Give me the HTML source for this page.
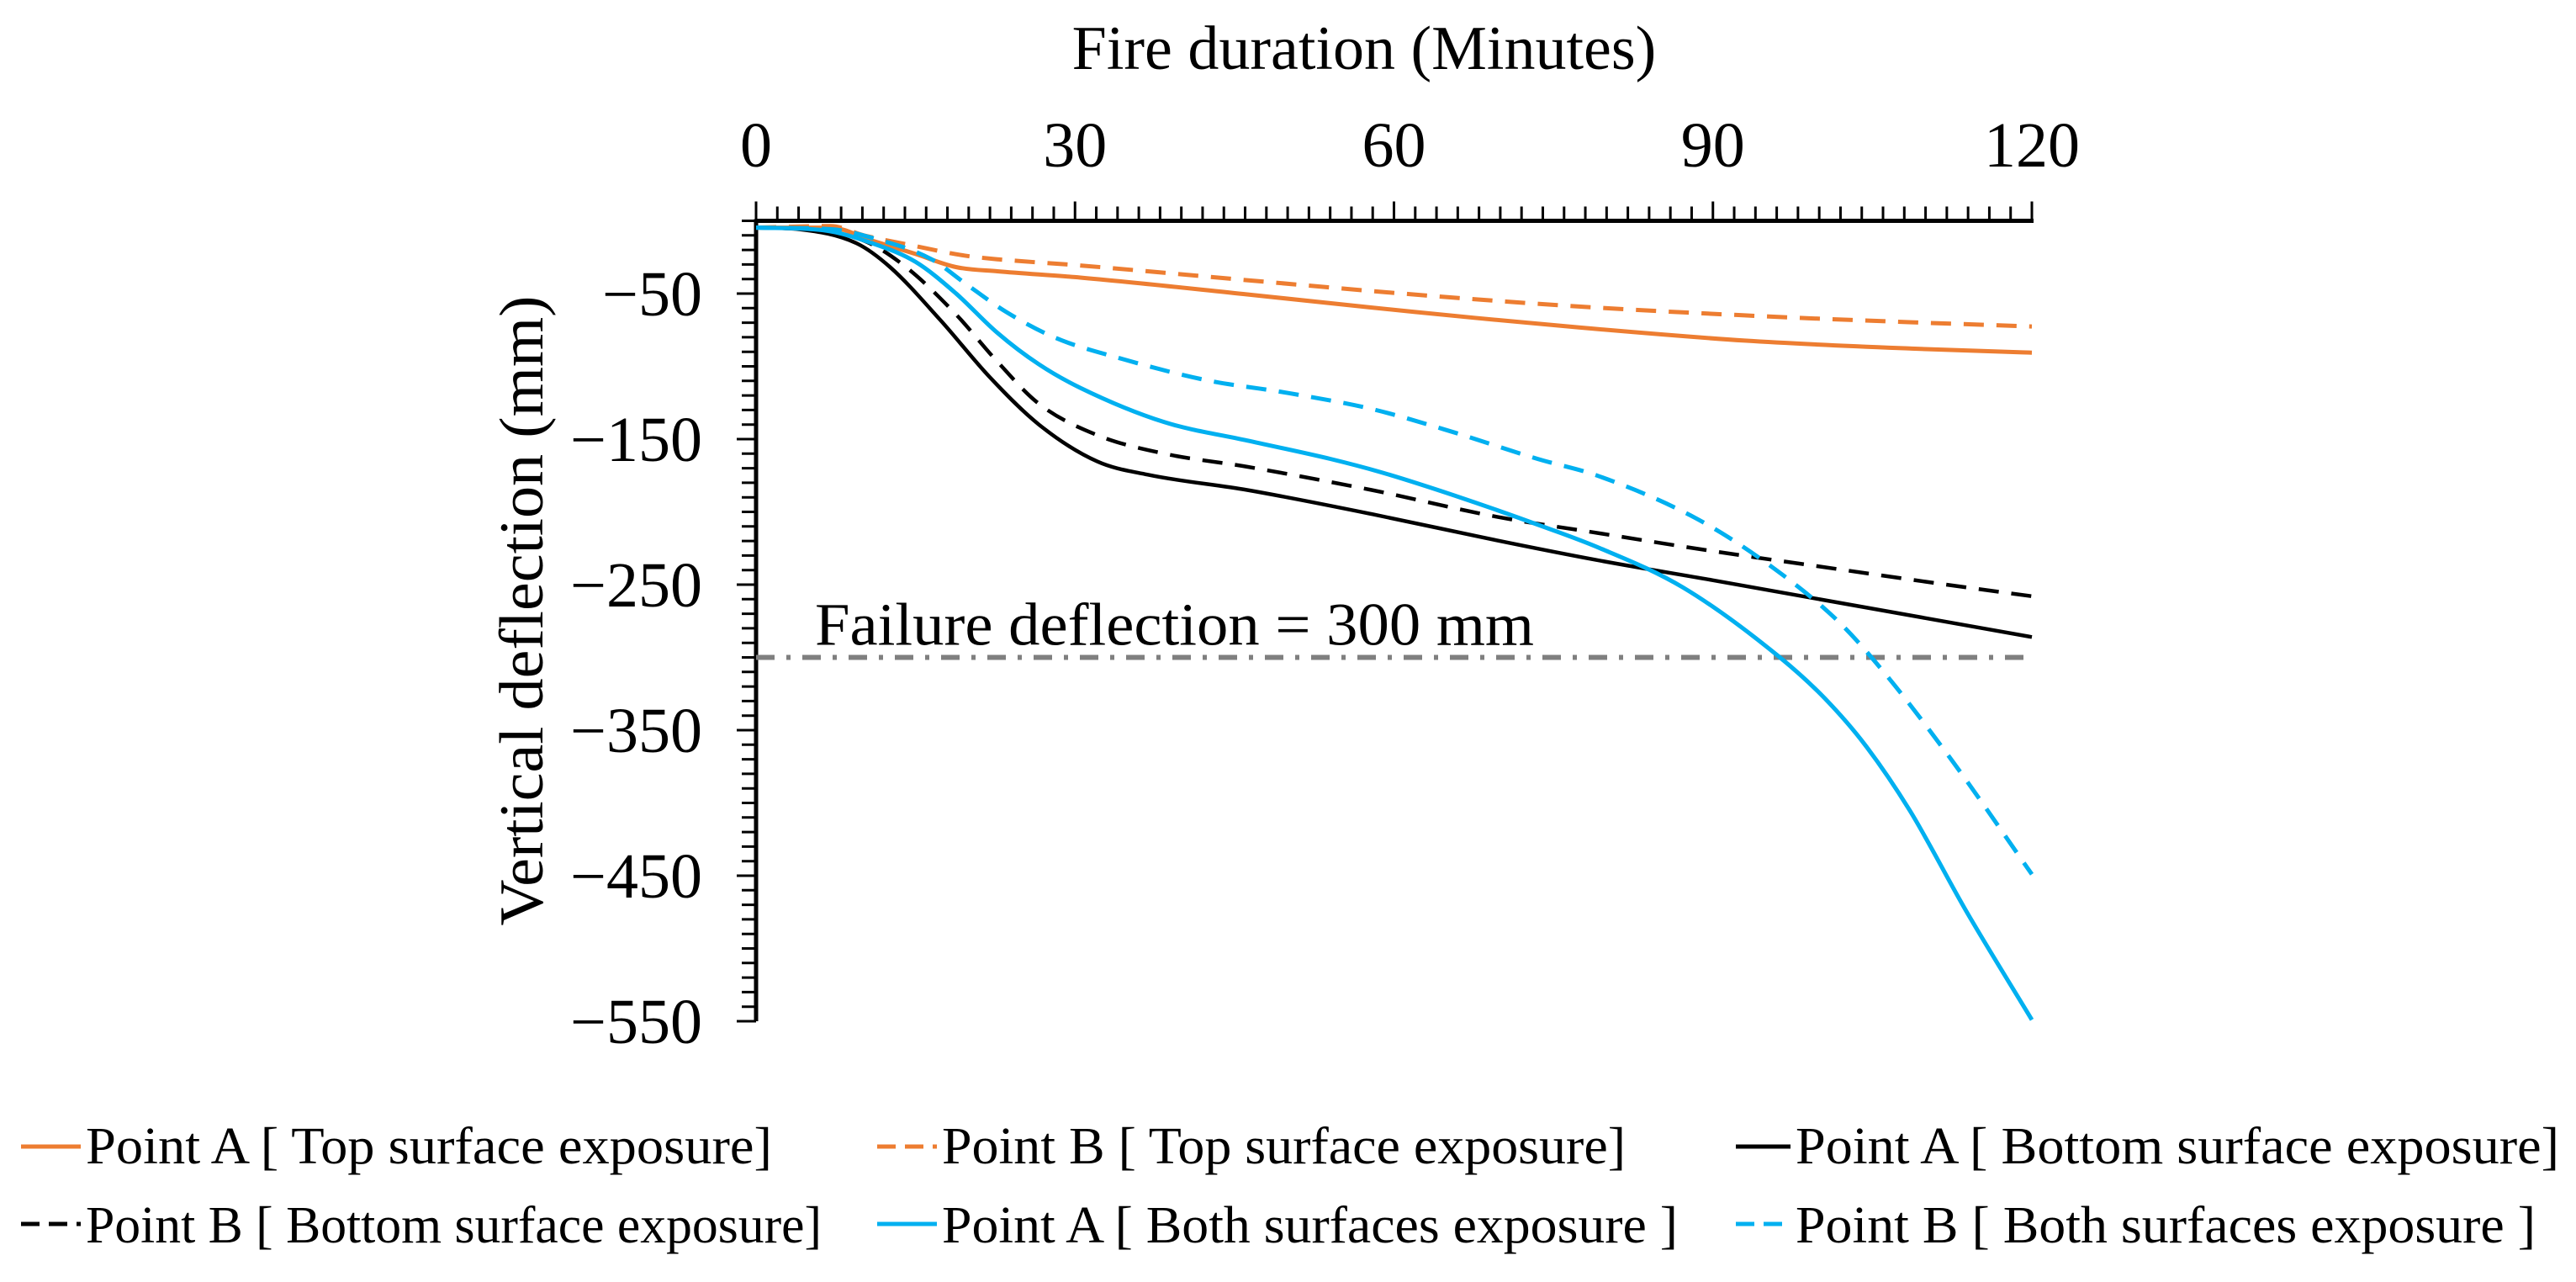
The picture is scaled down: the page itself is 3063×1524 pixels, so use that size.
<!DOCTYPE html>
<html><head><meta charset="utf-8"><style>
html,body{margin:0;padding:0;background:#fff;}
svg{display:block;font-family:"Liberation Serif",serif;}
</style></head><body>
<svg id="chart" width="3063" height="1524" viewBox="0 0 3063 1524" xmlns="http://www.w3.org/2000/svg">
<text x="1622" y="82" font-size="74" text-anchor="middle">Fire duration (Minutes)</text>
<text transform="translate(645,726) rotate(-90)" font-size="74" text-anchor="middle" textLength="749" lengthAdjust="spacingAndGlyphs">Vertical deflection (mm)</text>
<g id="axes"></g>
<g id="series"></g>
<g id="legend"></g>
</svg>
<script>
const xTicks = [0, 30, 60, 90, 120];
const yTicks = [-50, -150, -250, -350, -450, -550];
const failureValue = -300;
const failureLabel = "Failure deflection = 300 mm";

const tA_top = [0, 7, 11, 15, 18.8, 22.7, 30.5, 46.2, 61.8, 77.4, 93, 108.7, 120];
const vA_top = [-4.7, -4.7, -13.8, -22.8, -31.8, -34.7, -39, -50.6, -62.5, -73.3, -82.3, -87.8, -90.6];
const tB_top = [0, 7, 10.2, 15, 19.6, 22.7, 30.5, 46.2, 61.8, 77.4, 93, 108.7, 120];
const vB_top = [-4.7, -3.6, -10.1, -17.4, -23.9, -26.4, -30.7, -40.8, -50.6, -58.9, -65, -69.7, -72.6];
const tA_bot = [0, 4, 9.5, 12.6, 17.3, 22, 26.6, 32.1, 36.8, 46.2, 57.9, 69.6, 79, 90, 100, 110, 120];
const vA_bot = [-4.7, -5.8, -15.6, -31.8, -67.9, -107.6, -140, -165.4, -174.4, -185, -201.5, -219.5, -233, -247, -260, -273, -286];
const tB_bot = [0, 4.8, 10.2, 14.1, 18.8, 22.7, 26.6, 32.1, 38.4, 46.2, 57.9, 69.6, 79.6, 90, 100, 110, 120];
const vB_bot = [-4.7, -5.8, -13.8, -31.8, -64.3, -96.8, -125.7, -147.3, -160, -169, -185, -203.3, -215, -227, -237.5, -248, -258];
const tA_both = [0, 6.3, 11, 15, 18.8, 22.7, 26.6, 30.5, 38.4, 46.2, 54, 58.7, 65.7, 73.5, 79.4, 87.2, 96.3, 100.5, 104.3, 108.5, 113.8, 120];
const vA_both = [-4.7, -6.5, -15.6, -28.2, -49.9, -77, -98.6, -114.8, -138.3, -151, -163.6, -172.6, -188.8, -208.7, -225, -252, -300, -328, -360, -405, -474, -549];
const tB_both = [0, 7.1, 11, 16.5, 19.6, 23.5, 28.2, 34.5, 42.3, 50.1, 57.9, 65.7, 73.5, 79.1, 88.3, 95.2, 101.9, 106.4, 112.6, 120];
const vB_both = [-4.7, -5.8, -11.9, -26.4, -42.6, -62.5, -80.5, -95, -109.4, -118.4, -129.3, -145.5, -163.6, -175, -204, -236, -276, -313, -372, -449];

const NS = "http://www.w3.org/2000/svg";
const X0 = 899, X1 = 2416, Y0 = 262.5, YB = 1214;
function xs(t){ return X0 + t * (X1 - X0) / 120; }
function ys(v){ return Y0 - v * 1.73; }
function mk(tag, attrs, parent){ const e = document.createElementNS(NS, tag); for (const k in attrs) e.setAttribute(k, attrs[k]); parent.appendChild(e); return e; }

const axes = document.getElementById('axes');
let e;
e = mk('line', {x1: X0, y1: Y0, x2: X1 + 2, y2: Y0, stroke: '#000', 'stroke-width': 5}, axes);


e = mk('line', {x1: X0, y1: Y0 - 2, x2: X0, y2: YB, stroke: '#000', 'stroke-width': 5}, axes);


for (let t = 0; t <= 120; t += 2) {
  const major = t % 30 === 0;
  e = mk('line', {x1: xs(t), y1: Y0, x2: xs(t), y2: Y0 - (major ? 23 : 17), stroke: '#000', 'stroke-width': 3}, axes);
  
  
}
xTicks.forEach(t => {
  e = mk('text', {x: xs(t), y: 198, 'font-size': 76, 'text-anchor': 'middle'}, axes);
  e.textContent = String(t);
  
  
});
for (let v = 0; v >= -550; v -= 10) {
  const major = yTicks.indexOf(v) >= 0;
  e = mk('line', {x1: X0, y1: ys(v), x2: X0 - (major ? 23 : 17), y2: ys(v), stroke: '#000', 'stroke-width': 3}, axes);
  
  
}
yTicks.forEach(v => {
  e = mk('text', {x: 835, y: ys(v) + 26, 'font-size': 76, 'text-anchor': 'end'}, axes);
  e.textContent = '\u2212' + String(Math.abs(v));
  
  
});
e = mk('line', {x1: X0, y1: ys(failureValue), x2: X1, y2: ys(failureValue), stroke: '#7f7f7f', 'stroke-width': 6, 'stroke-dasharray': '22 14 5 14'}, axes);


e = mk('text', {x: 969, y: ys(failureValue) - 15, 'font-size': 72, textLength: 855, lengthAdjust: 'spacingAndGlyphs'}, axes);
e.textContent = failureLabel;



// monotone cubic (Fritsch-Carlson) path
function pathD(ts, vs){
  const x = ts.map(xs), y = vs.map(ys), n = x.length;
  const d = [], m = new Array(n);
  for (let i = 0; i < n - 1; i++) d.push((y[i + 1] - y[i]) / (x[i + 1] - x[i]));
  m[0] = d[0]; m[n - 1] = d[n - 2];
  for (let i = 1; i < n - 1; i++) m[i] = (d[i - 1] * d[i] <= 0) ? 0 : (d[i - 1] + d[i]) / 2;
  for (let i = 0; i < n - 1; i++) {
    if (d[i] === 0) { m[i] = 0; m[i + 1] = 0; continue; }
    const a = m[i] / d[i], b = m[i + 1] / d[i], s = a * a + b * b;
    if (s > 9) { const tau = 3 / Math.sqrt(s); m[i] = tau * a * d[i]; m[i + 1] = tau * b * d[i]; }
  }
  let p = 'M' + x[0].toFixed(1) + ',' + y[0].toFixed(1);
  for (let i = 0; i < n - 1; i++) {
    const h = (x[i + 1] - x[i]) / 3;
    p += 'C' + (x[i] + h).toFixed(1) + ',' + (y[i] + m[i] * h).toFixed(1) + ' ' + (x[i + 1] - h).toFixed(1) + ',' + (y[i + 1] - m[i + 1] * h).toFixed(1) + ' ' + x[i + 1].toFixed(1) + ',' + y[i + 1].toFixed(1);
  }
  return p;
}
const ORANGE = '#ED7D31', BLUE = '#00B0F0', BLACK = '#000';
const DASH = '24 15';
const seriesG = document.getElementById('series');
e = mk('path', {d: pathD(tA_top, vA_top), fill: 'none', stroke: ORANGE, 'stroke-width': 5}, seriesG);


e = mk('path', {d: pathD(tB_top, vB_top), fill: 'none', stroke: ORANGE, 'stroke-width': 5, 'stroke-dasharray': DASH}, seriesG);


e = mk('path', {d: pathD(tA_bot, vA_bot), fill: 'none', stroke: BLACK, 'stroke-width': 4.5}, seriesG);


e = mk('path', {d: pathD(tB_bot, vB_bot), fill: 'none', stroke: BLACK, 'stroke-width': 4.5, 'stroke-dasharray': DASH}, seriesG);


e = mk('path', {d: pathD(tA_both, vA_both), fill: 'none', stroke: BLUE, 'stroke-width': 5}, seriesG);


e = mk('path', {d: pathD(tB_both, vB_both), fill: 'none', stroke: BLUE, 'stroke-width': 5, 'stroke-dasharray': DASH}, seriesG);



const legendLabels = ["Point A [ Top surface exposure]", "Point B [ Top surface exposure]", "Point A [ Bottom surface exposure]",
  "Point B [ Bottom surface exposure]", "Point A [ Both surfaces exposure ]", "Point B [ Both surfaces exposure ]"];
const legendColors = [ORANGE, ORANGE, BLACK, BLACK, BLUE, BLUE];
const legendDashed = [false, true, false, true, false, true];
const legG = document.getElementById('legend');
const lx = [[25, 102, 816], [1043, 1120, 813], [2064, 2135, 908], [25, 102, 875], [1043, 1120, 875], [2064, 2135, 880]];
const ly = [[1363, 1383], [1363, 1383], [1363, 1383], [1455, 1477], [1455, 1477], [1455, 1477]];
legendLabels.forEach((lab, i) => {
  const g = mk('g', {}, legG);
  
  
  const ln = mk('line', {x1: lx[i][0], y1: ly[i][0], x2: lx[i][1] - 6, y2: ly[i][0], stroke: legendColors[i], 'stroke-width': 5}, g);
  if (legendDashed[i]) ln.setAttribute('stroke-dasharray', '22 11');
  
  
  const tx = mk('text', {x: lx[i][1], y: ly[i][1], 'font-size': 62, textLength: lx[i][2], lengthAdjust: 'spacingAndGlyphs'}, g);
  tx.textContent = lab;
  
  
});
</script>
</body></html>
